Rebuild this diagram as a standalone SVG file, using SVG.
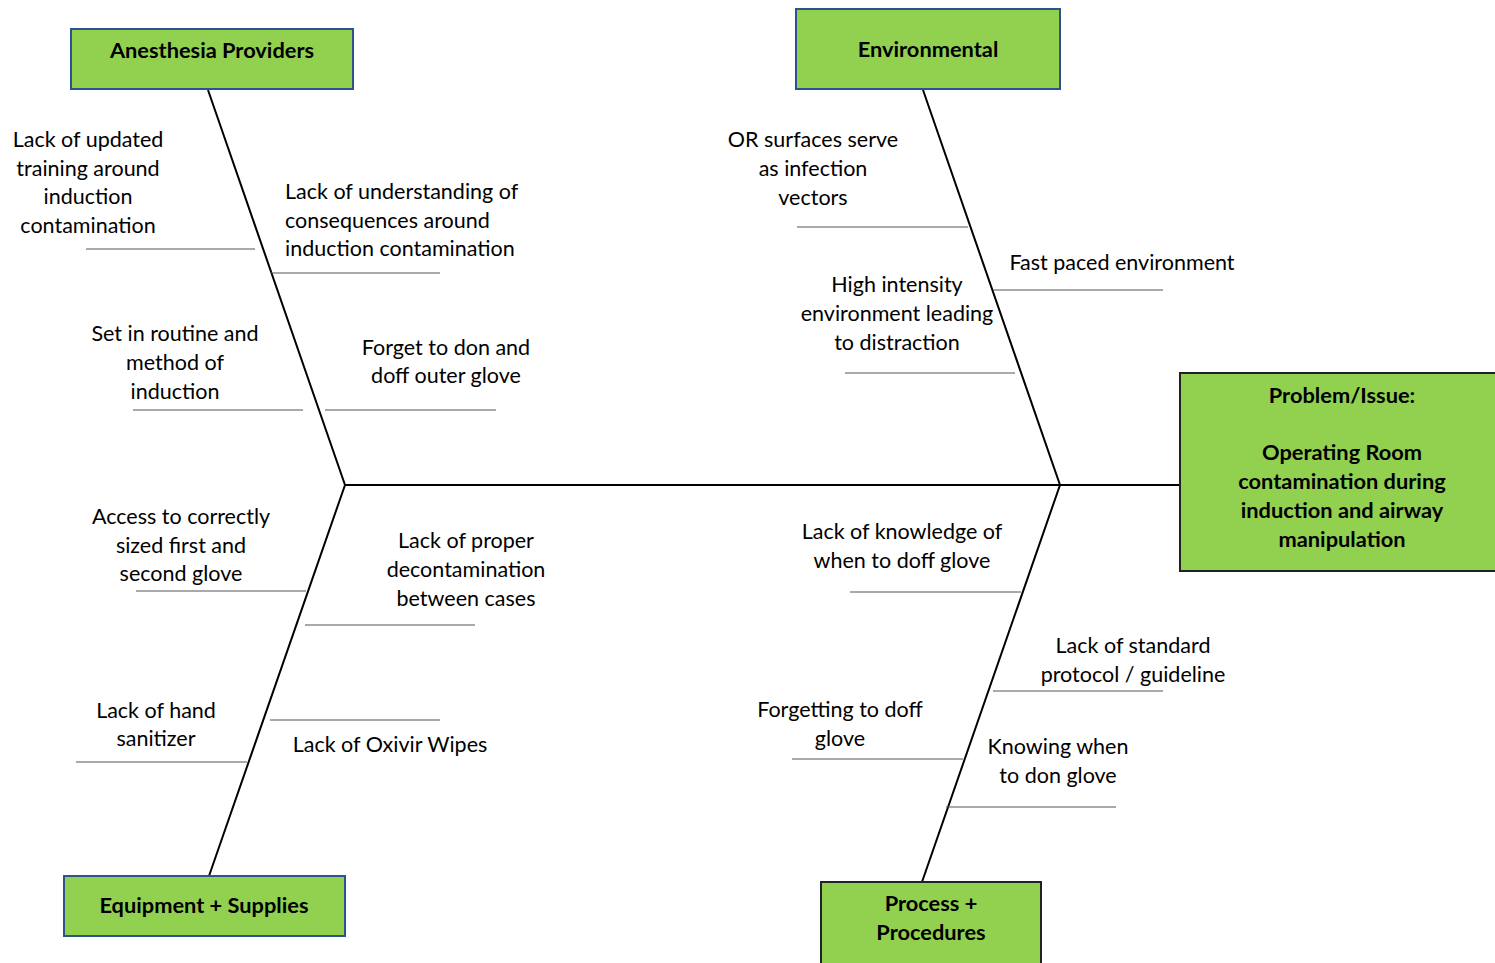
<svg xmlns="http://www.w3.org/2000/svg" width="1495" height="963" viewBox="0 0 1495 963">
<style>
.box{fill:#92d050;stroke-width:2}
.blue{stroke:#2f528f}
.dark{stroke:#222}
.t{font-family:Lato,"Open Sans",sans-serif;font-size:21.5px;fill:#000}
.c{text-anchor:middle}
.h{font-family:Lato,"Open Sans",sans-serif;font-size:21.8px;font-weight:bold;fill:#000;text-anchor:middle}
.bone{stroke:#000;stroke-width:2;fill:none}
.sub{stroke:#555;stroke-width:1.2;fill:none}
</style>
<rect width="1495" height="963" fill="#fff"/>
<g id="connectors">
<line class="bone" x1="345" y1="485" x2="1180" y2="485"/>
<polyline class="bone" points="208,90 345,485 209,876"/>
<polyline class="bone" points="923,90 1060,485 922,882"/>
<line class="sub" x1="86" y1="249" x2="255" y2="249"/>
<line class="sub" x1="271" y1="273" x2="440" y2="273"/>
<line class="sub" x1="133" y1="410" x2="303" y2="410"/>
<line class="sub" x1="325" y1="410" x2="496" y2="410"/>
<line class="sub" x1="136" y1="591" x2="306" y2="591"/>
<line class="sub" x1="305" y1="625" x2="475" y2="625"/>
<line class="sub" x1="76" y1="762" x2="247" y2="762"/>
<line class="sub" x1="270" y1="720" x2="440" y2="720"/>
<line class="sub" x1="797" y1="227" x2="968" y2="227"/>
<line class="sub" x1="993" y1="290" x2="1163" y2="290"/>
<line class="sub" x1="845" y1="373" x2="1015" y2="373"/>
<line class="sub" x1="850" y1="592" x2="1021" y2="592"/>
<line class="sub" x1="993" y1="691" x2="1163" y2="691"/>
<line class="sub" x1="792" y1="759" x2="963" y2="759"/>
<line class="sub" x1="946" y1="807" x2="1116" y2="807"/>
</g>
<g id="anesthesia">
<rect class="box blue" x="71" y="29" width="282" height="60"/>
<text class="h" x="212" y="58">Anesthesia Providers</text>
</g>
<g id="environmental">
<rect class="box blue" x="796" y="9" width="264" height="80"/>
<text class="h" x="928" y="57">Environmental</text>
</g>
<g id="equipment">
<rect class="box blue" x="64" y="876" width="281" height="60"/>
<text class="h" x="204" y="913">Equipment + Supplies</text>
</g>
<g id="process">
<rect class="box dark" x="821" y="882" width="220" height="90"/>
<text class="h" x="931" y="911">Process +</text>
<text class="h" x="931" y="940">Procedures</text>
</g>
<g id="problem">
<rect class="box dark" x="1180" y="373" width="325" height="198"/>
<text class="h" x="1342" y="403">Problem/Issue:</text>
<text class="h" x="1342" y="460">Operating Room</text>
<text class="h" x="1342" y="489">contamination during</text>
<text class="h" x="1342" y="518">induction and airway</text>
<text class="h" x="1342" y="547">manipulation</text>
</g>
<g id="cause-training">
<text class="t c" x="88" y="147">Lack of updated</text>
<text class="t c" x="88" y="176">training around</text>
<text class="t c" x="88" y="204">induction</text>
<text class="t c" x="88" y="233">contamination</text>
</g>
<g id="cause-understanding">
<text class="t" x="285" y="199">Lack of understanding of</text>
<text class="t" x="285" y="228">consequences around</text>
<text class="t" x="285" y="256">induction contamination</text>
</g>
<g id="cause-routine">
<text class="t c" x="175" y="341">Set in routine and</text>
<text class="t c" x="175" y="370">method of</text>
<text class="t c" x="175" y="399">induction</text>
</g>
<g id="cause-forget">
<text class="t c" x="446" y="355">Forget to don and</text>
<text class="t c" x="446" y="383">doff outer glove</text>
</g>
<g id="cause-access">
<text class="t c" x="181" y="524">Access to correctly</text>
<text class="t c" x="181" y="553">sized first and</text>
<text class="t c" x="181" y="581">second glove</text>
</g>
<g id="cause-decon">
<text class="t c" x="466" y="548">Lack of proper</text>
<text class="t c" x="466" y="577">decontamination</text>
<text class="t c" x="466" y="606">between cases</text>
</g>
<g id="cause-sanitizer">
<text class="t c" x="156" y="718">Lack of hand</text>
<text class="t c" x="156" y="746">sanitizer</text>
</g>
<g id="cause-oxivir">
<text class="t c" x="390" y="752">Lack of Oxivir Wipes</text>
</g>
<g id="cause-surfaces">
<text class="t c" x="813" y="147">OR surfaces serve</text>
<text class="t c" x="813" y="176">as infection</text>
<text class="t c" x="813" y="205">vectors</text>
</g>
<g id="cause-fast">
<text class="t c" x="1122" y="270">Fast paced environment</text>
</g>
<g id="cause-intensity">
<text class="t c" x="897" y="292">High intensity</text>
<text class="t c" x="897" y="321">environment leading</text>
<text class="t c" x="897" y="350">to distraction</text>
</g>
<g id="cause-knowledge">
<text class="t c" x="902" y="539">Lack of knowledge of</text>
<text class="t c" x="902" y="568">when to doff glove</text>
</g>
<g id="cause-protocol">
<text class="t c" x="1133" y="653">Lack of standard</text>
<text class="t c" x="1133" y="682">protocol / guideline</text>
</g>
<g id="cause-forgetting">
<text class="t c" x="840" y="717">Forgetting to doff</text>
<text class="t c" x="840" y="746">glove</text>
</g>
<g id="cause-knowing">
<text class="t c" x="1058" y="754">Knowing when</text>
<text class="t c" x="1058" y="783">to don glove</text>
</g>
</svg>
